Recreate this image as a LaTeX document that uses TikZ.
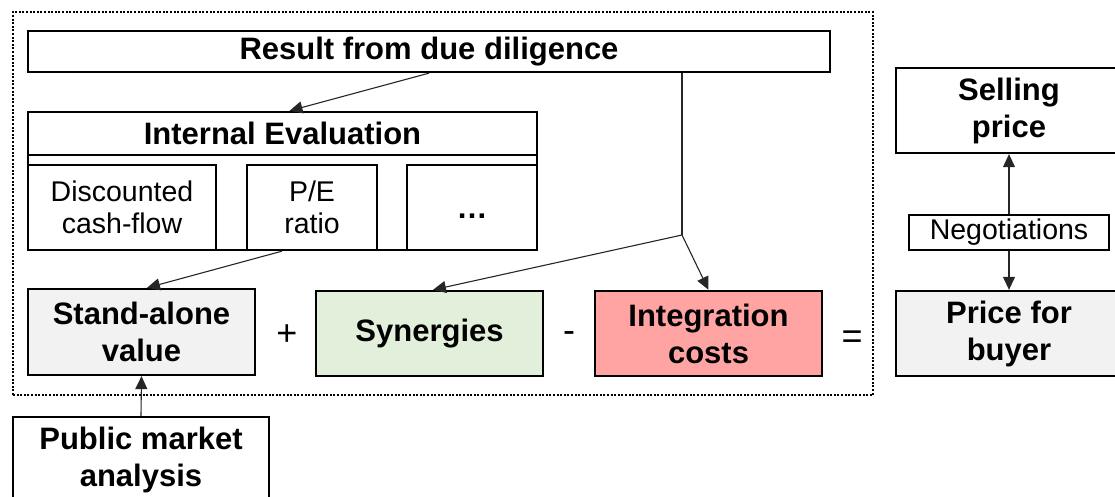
\documentclass[tikz,border=0pt]{standalone}
\usepackage{fontspec}
\setmainfont{Liberation Sans}
\usetikzlibrary{arrows.meta}
\definecolor{lgray}{HTML}{F2F2F2}
\definecolor{lgreen}{HTML}{E2EFDA}
\definecolor{lred}{HTML}{FFA3A3}
\begin{document}
\begin{tikzpicture}[x=1pt,y=-1pt,
  wh/.style 2 args={minimum width=#1pt, minimum height=#2pt},
  box/.style={draw, line width=2.3pt, inner sep=0pt, align=center, font=\fontsize{31}{37}\selectfont\bfseries},
  rbox/.style={draw, line width=2.3pt, inner sep=0pt, align=center, font=\fontsize{28.5}{32}\selectfont},
  conn/.style={line width=1.1pt, draw=black!85, -{Triangle[length=13pt,width=12pt]}},
  plainline/.style={line width=1.1pt, draw=black!85},
  op/.style={font=\fontsize{36}{40}\selectfont, inner sep=0pt},
  frame/.style={draw, line width=2pt, dash pattern=on 2pt off 1.6pt, inner sep=0pt}
]
\useasboundingbox (0,0) rectangle (1115,497);
% dotted frame
\node[frame, wh={860}{383}] (fr) at (443,203.5) {};
% result
\node[box, wh={802}{41}] (res) at (429,51.5) {Result from due diligence};
% internal evaluation container
\node[draw, line width=2.3pt, inner sep=0pt, wh={509}{138}] (ie) at (282.5,181) {};
\node[box, wh={509}{43}] (iehead) at (282.5,133.5) {Internal Evaluation};
\node[rbox, wh={188}{85}] (dcf) at (122,207.5) {Discounted\\cash-flow};
\node[rbox, wh={130}{85}] (pe) at (312,207.5) {P/E\\ratio};
\node[rbox, wh={130}{85}, font=\fontsize{31}{37}\selectfont\bfseries] (etc) at (472,207.5) {\vphantom{P}\ldots};
% bottom row
\node[box, fill=lgray, wh={227}{86}] (sav) at (141.5,332) {Stand-alone\\value};
\node[box, fill=lgreen, wh={227}{85}] (syn) at (429.5,333.5) {Synergies};
\node[box, fill=lred, wh={227}{85}] (ic) at (708.5,333.5) {Integration\\costs};
\node[box, fill=lgray, wh={226}{85}] (pfb) at (1009,333.5) {Price for\\buyer};
\node[box, wh={226}{85}] (sp) at (1009,110.5) {Selling\\price};
\node[rbox, line width=1.4pt, wh={200}{35}] (neg) at (1009,232.5) {Negotiations};
\node[box, wh={256}{85}] (pma) at (141,459.5) {Public market\\analysis};
% operators
\node[op] (plus) at (287,335) {+};
\node[op] (minus) at (569,337) {-};
\node[op] (eq) at (852,340) {=};
% connectors
\coordinate (j) at (682,235);
\draw[conn] (res.south) -- ([xshift=7pt]iehead.north);
\draw[plainline] (res.south -| j) -- (j);
\draw[conn] (j) -- ([xshift=3.5pt]syn.north);
\draw[conn] (j) -- (ic.north);
\draw[conn] ([xshift=-30pt]pe.south) -- ([xshift=5.5pt]sav.north);
\draw[conn] (pma.north) -- (sav.south);
\draw[conn] (neg.north) -- (sp.south);
\draw[conn] (neg.south) -- (pfb.north);
\end{tikzpicture}
\end{document}
